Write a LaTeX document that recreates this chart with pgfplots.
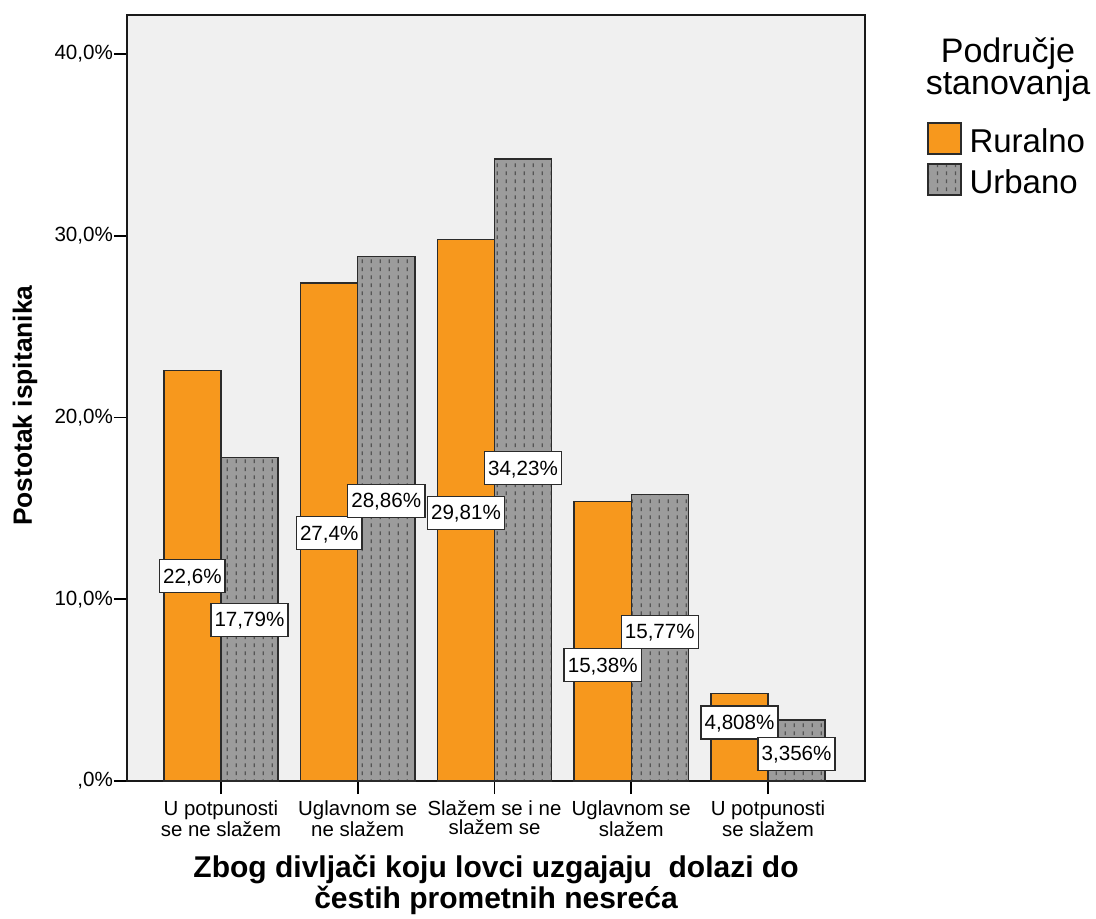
\documentclass[border=0pt]{standalone}
\usepackage{pgfplots}
\pgfplotsset{compat=1.18}
\usepackage{fontspec}
\setmainfont{Liberation Sans}
\usetikzlibrary{patterns}
\definecolor{rural}{HTML}{F7981D}
\definecolor{urbgray}{HTML}{9C9C9C}
\definecolor{urbdash}{HTML}{555555}
\definecolor{bgc}{HTML}{F0F0F0}
\definecolor{edge}{HTML}{2B2B2B}
\pgfdeclarepatternformonly{sdash}{\pgfqpoint{0pt}{0pt}}{\pgfqpoint{4.67pt}{4.17pt}}{\pgfqpoint{4.67pt}{4.17pt}}{%
  \pgfpathrectangle{\pgfqpoint{2.0pt}{1.0pt}}{\pgfqpoint{0.65pt}{2.0pt}}\pgfusepath{fill}}
\begin{document}
\begin{tikzpicture}
\path[use as bounding box] (-63.5pt,-68.5pt) rectangle (484.5pt,390.5pt);
\begin{axis}[
  at={(0pt,0pt)}, anchor=south west,
  width=369pt, height=383pt, scale only axis,
  xmin=-0.687, xmax=4.709, ymin=0, ymax=42.15,
  clip=false,
  axis background/.style={fill=bgc},
  axis line style={line width=1pt, black!90},
  xtick={0,1,2,3,4},
  xticklabels={{U potpunosti\\se ne slažem},{Uglavnom se\\ne slažem},{Slažem se i ne\\slažem se},{Uglavnom se\\slažem},{U potpunosti\\se slažem}},
  ytick={0,10,20,30,40},
  yticklabels={{,0\%},{10,0\%},{20,0\%},{30,0\%},{40,0\%}},
  tick align=outside, major tick length=6.5pt,
  tick style={line width=0.8pt, black},
  xtick pos=bottom, ytick pos=left,
  xticklabel style={font=\fontsize{10.2}{9.5}\selectfont, align=center, yshift=0pt},
  yticklabel style={font=\fontsize{10.3}{12}\selectfont, xshift=3pt},
  /pgf/number format/assume math mode=true,
  xlabel={Zbog divljači koju lovci uzgajaju\ \ dolazi do\\čestih prometnih nesreća},
  xlabel style={font=\bfseries\fontsize{15}{13}\selectfont, align=center, at={(axis description cs:0.5,0)}, anchor=base, yshift=-63.5pt},
  ylabel={Postotak ispitanika},
  ylabel style={font=\bfseries\fontsize{13.2}{15}\selectfont, at={(axis description cs:-0.138,0.49)}, anchor=center},
  legend style={at={(rel axis cs:1,1)}, anchor=north west, xshift=31pt, yshift=-53.5pt,
    draw=none, fill=none, inner sep=0pt, outer sep=0pt, row sep=4pt, column sep=4pt,
    font=\fontsize{16.5}{18}\selectfont, nodes={inner sep=0pt}},
  legend cell align=left,
  legend image code/.code={\draw[#1] (0pt,-6pt) rectangle (16.5pt,9.5pt);},
]
\addplot[ybar, bar width=0.417, bar shift=-0.2085, fill=rural, draw=edge, line width=0.75pt]
  coordinates {(0,22.6) (1,27.4) (2,29.81) (3,15.38) (4,4.808)};
\addlegendentry{Ruralno}
\addplot[ybar, bar width=0.417, bar shift=0.2085, fill=urbgray, draw=edge, line width=0.75pt,
  postaction={pattern=sdash, pattern color=urbdash}]
  coordinates {(0,17.79) (1,28.86) (2,34.23) (3,15.77) (4,3.356)};
\addlegendentry{Urbano}
\addplot[draw=none, mark=none, forget plot,
  nodes near coords, point meta=explicit symbolic,
  nodes near coords align=center,
  every node near coord/.append style={anchor=center, fill=white, draw=edge, line width=0.75pt,
    font=\fontsize{10.3}{12}\selectfont, inner xsep=1.8pt, inner ysep=4.3pt, text height=7.4pt, text depth=0.4pt}]
  table[meta=lab] {
x y lab
-0.2085 11.28 22,6\%
0.2085 8.86 17,79\%
0.7915 13.64 27,4\%
1.2085 15.41 28,86\%
1.7915 14.75 29,81\%
2.2085 17.22 34,23\%
2.7915 6.38 15,38\%
3.2085 8.20 15,77\%
3.7915 3.22 4,808\%
4.2085 1.49 3,356\%
};
\node[anchor=base, font=\fontsize{17}{20}\selectfont] at (rel axis cs:1,1) [xshift=71.5pt, yshift=-23.5pt] {Područje};
\node[anchor=base, font=\fontsize{17}{20}\selectfont] at (rel axis cs:1,1) [xshift=71.5pt, yshift=-39.5pt] {stanovanja};
\end{axis}
\end{tikzpicture}
\end{document}
